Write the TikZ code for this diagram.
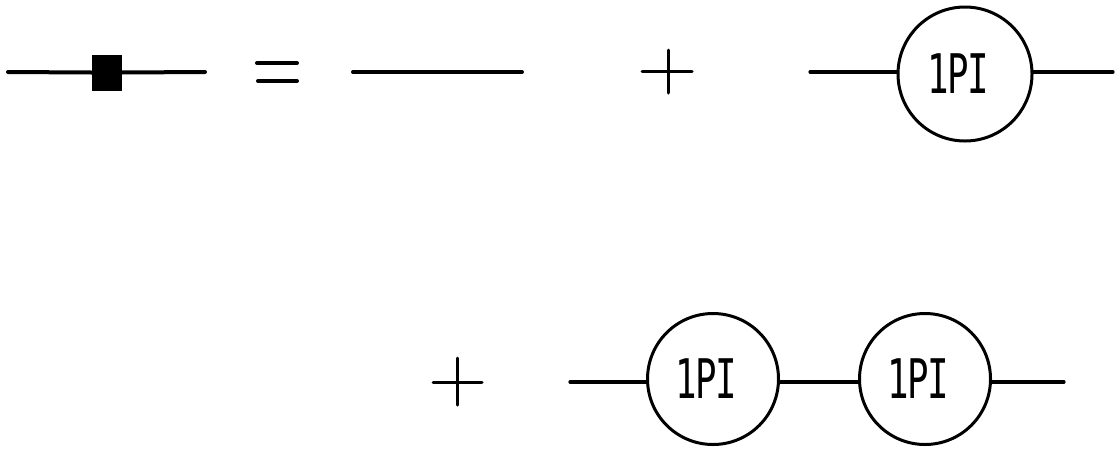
\documentclass[tikz,border=0pt]{standalone}
\usepackage{fontspec}
\newfontfamily\pifont[LetterSpace=-5]{DejaVu Sans Mono}
\tikzset{
  prop/.style={line width=3.2pt, line cap=round},
  thick prop/.style={line width=4pt, line cap=round},
  blob/.style={circle, draw, line width=3pt, minimum size=131pt, inner sep=0pt,
    font=\pifont\fontsize{42}{42}\selectfont},
  sym/.style={line width=3pt, line cap=round}
}
\newcommand{\pitext}{\scalebox{0.85}[1.3]{1PI}\kern 14pt}
\begin{document}
\begin{tikzpicture}[x=1pt,y=-1pt]
\useasboundingbox (0,0) rectangle (1118,451);
% top row: full propagator
\coordinate (a1) at (8,72);
\coordinate (a2) at (205,72);
\node[fill=black, draw=black, minimum width=29pt, minimum height=35pt, inner sep=0pt] (sq) at (106.5,72.5) {};
\draw[thick prop] (a1) -- (sq.west);
\draw[thick prop] (sq.east) -- (a2);
% equals sign
\coordinate (e1) at (257,63); \coordinate (e2) at (297,63);
\coordinate (e3) at (258,81); \coordinate (e4) at (297,81);
\draw[thick prop] (e1) -- (e2);
\draw[thick prop] (e3) -- (e4);
% bare propagator
\coordinate (b1) at (353,72); \coordinate (b2) at (522,72);
\draw[thick prop] (b1) -- (b2);
% plus 1
\coordinate (p1) at (642,71); \coordinate (p2) at (692,71);
\coordinate (p3) at (668,50); \coordinate (p4) at (668,93);
\draw[sym] (p1) -- (p2);
\draw[sym] (p3) -- (p4);
% one 1PI
\node[blob, minimum size=134pt] (c1) at (965,74) {\pitext};
\coordinate (l1) at (810,72); \coordinate (r1) at (1113,72);
\draw[prop] (l1) -- (l1 -| c1.west);
\draw[prop] (r1 -| c1.east) -- (r1);
% bottom row: plus 2
\coordinate (q1) at (433,382); \coordinate (q2) at (482,382);
\coordinate (q3) at (457,358); \coordinate (q4) at (457,405);
\draw[sym] (q1) -- (q2);
\draw[sym] (q3) -- (q4);
% two 1PI
\node[blob] (d1) at (713,379) {\pitext};
\node[blob] (d2) at (925,379) {\pitext};
\coordinate (l2) at (570,382); \coordinate (r2) at (1064,382);
\draw[prop] (l2) -- (l2 -| d1.west);
\draw[prop] (d1.east |- l2) -- (d2.west |- l2);
\draw[prop] (d2.east |- r2) -- (r2);
\end{tikzpicture}
\end{document}
